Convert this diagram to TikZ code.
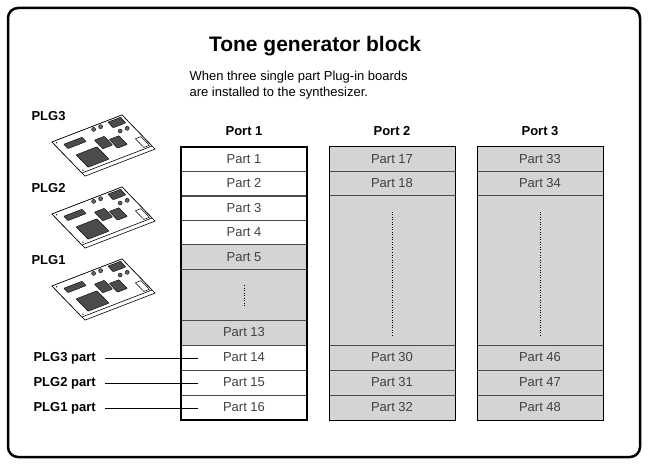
\documentclass[tikz,border=0pt]{standalone}
\usepackage{fontspec}
\setmainfont{Liberation Sans}
\def\sq(#1,#2,#3,#4){(#1,#2) -- (#3,#2) -- (#3,#4) -- (#1,#4) -- cycle}
\begin{document}
\begin{tikzpicture}[x=1pt,y=-1pt,
  cell/.style={draw=black!70,line width=0.5pt,minimum width=126pt,minimum height=24.6pt,inner sep=0pt,font=\fontsize{13}{15}\selectfont,text=black!75},
  g/.style={fill=black!17},
  hdr/.style={font=\bfseries\fontsize{13}{15}\selectfont},
  lbl/.style={font=\bfseries\fontsize{13}{15}\selectfont,anchor=west},
  chip/.style={fill=black!70,draw=black,line width=0.4pt,rounded corners=0.5pt},
  vdots/.style={dash pattern=on 1pt off 1.5pt,line width=0.6pt}]
\useasboundingbox (0,0) rectangle (648,465);
\fill[white] (0,0) rectangle (648,465);
\draw[line width=2.5pt,rounded corners=10pt] (8,8) rectangle (640,457);
\node[font=\bfseries\fontsize{21}{23}\selectfont] (title) at (315,46) {Tone generator block};
\node[anchor=west,font=\fontsize{13}{16}\selectfont,align=left] (sub) at (186,85) {When three single part Plug-in boards\\are installed to the synthesizer.};
% headers
\node[hdr] (h1) at (244,131) {Port 1};
\node[hdr] (h2) at (392,131) {Port 2};
\node[hdr] (h3) at (540,131) {Port 3};
% column 1
\foreach \t/\y/\s in {Part 1/159/,Part 2/183.5/,Part 3/208/,Part 4/232.5/,Part 5/257/g,Part 13/332.5/g,Part 14/357.5/,Part 15/382.5/,Part 16/407.5/}
  \node[cell,\s] (c1-\y) at (244,\y) {\t};
\node[cell,g,minimum height=51pt] (c1gap) at (244,295) {};
\draw[vdots] (244,285) -- (244,306);
\draw[line width=1.5pt] (181,147) rectangle (307,420);
\draw[line width=1.5pt] (181,340) -- (181,420);
% column 2 & 3
\foreach \x/\a/\b/\c/\d/\e/\f in {392/17/18/30/31/32/2,540/33/34/46/47/48/3}{
  \node[cell,g] (c\f-a) at (\x,159) {Part \a};
  \node[cell,g] (c\f-b) at (\x,183.5) {Part \b};
  \node[cell,g,minimum height=150pt] (c\f-gap) at (\x,270.5) {};
  \node[cell,g] (c\f-c) at (\x,357.5) {Part \c};
  \node[cell,g] (c\f-d) at (\x,382.5) {Part \d};
  \node[cell,g] (c\f-e) at (\x,407.5) {Part \e};
  \draw[vdots] (\x,212) -- (\x,336);
  \draw[line width=1pt] (\x-63,147) rectangle (\x+63,420);
}
% left labels
\node[lbl] (l3) at (30,358) {PLG3 part};
\node[lbl] (l2) at (30,383) {PLG2 part};
\node[lbl] (l1) at (30,408) {PLG1 part};
\coordinate (e3) at (198,358);
\coordinate (e2) at (198,383);
\coordinate (e1) at (198,408);
\draw[line width=0.6pt] ([xshift=6pt]l3.east) -- (e3);
\draw[line width=0.6pt] ([xshift=6pt]l2.east) -- (e2);
\draw[line width=0.6pt] ([xshift=6pt]l1.east) -- (e1);
% boards
\foreach \n/\dy in {3/0,2/72,1/144}{
  \node[lbl] (p\n) at (28,116+\dy) {PLG\n};
  \begin{scope}[shift={(52,142+\dy)},x={(70pt,27pt)},y={(30pt,-31pt)}]
    \fill[white,draw=black,line width=0.6pt] (0,0) -- (0,1) -- ++(0,0.1) -- (1,1.1) -- (1,0) -- cycle;
    \draw[fill=white,line width=0.6pt] \sq(0,0,1,1);
    \foreach \p in {(0.04,0.06),(0.96,0.06),(0.04,0.94),(0.96,0.94)} \fill \p circle (0.7pt);
    \draw[chip] \sq(0.12,0.52,0.42,0.92);
    \draw[chip] \sq(0.1,0.16,0.36,0.3);
    \draw[chip] \sq(0.46,0.34,0.6,0.62);
    \draw[chip] \sq(0.62,0.46,0.76,0.74);
    \draw[chip] \sq(0.78,0.04,0.96,0.22);
    \foreach \p in {(0.56,0.08),(0.66,0.08),(0.82,0.36),(0.92,0.36)} \draw[fill=black!60] \p circle (2pt);
    \draw[fill=white,line width=0.5pt] \sq(0.9,0.68,0.98,0.96);
  \end{scope}
}
\end{tikzpicture}
\end{document}
